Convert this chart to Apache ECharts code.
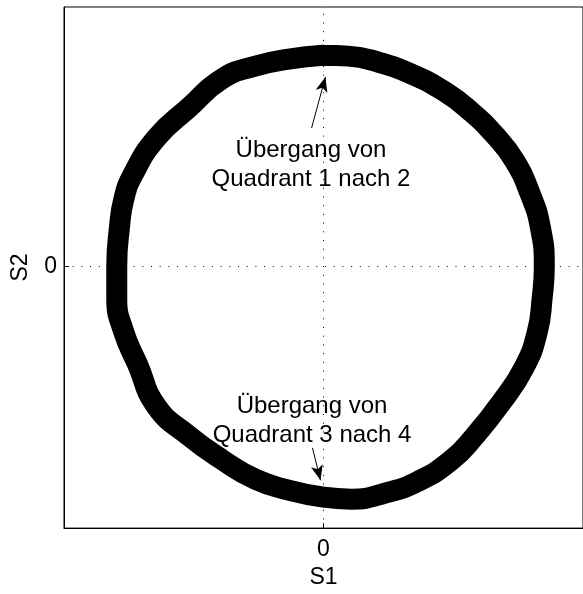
<!DOCTYPE html>
<html>
<head>
<meta charset="utf-8">
<script src="https://cdn.jsdelivr.net/npm/echarts@6/dist/echarts.min.js"></script>
<style>
  html, body { margin: 0; padding: 0; background: #fff; }
  #chart { width: 583px; height: 594px; }
</style>
</head>
<body>
<div id="chart"></div>
<script>
// Measured trace of the (S1, S2) ring, clockwise from the top
var s1 = [0, 0.115, 0.253, 0.405, 0.561, 0.680, 0.791, 0.883, 0.956, 1.002,
          1.021, 1.011, 0.989, 0.929, 0.818, 0.699, 0.589, 0.437, 0.285, 0.129,
          0, -0.161, -0.313, -0.469, -0.621, -0.772, -0.860, -0.924, -0.956, -0.956,
          -0.943, -0.924, -0.883, -0.772, -0.621, -0.469, -0.313, -0.161, 0];
var s2 = [0.985, 0.981, 0.953, 0.898, 0.815, 0.724, 0.614, 0.494, 0.338, 0.187,
          0, -0.148, -0.304, -0.469, -0.640, -0.791, -0.905, -1.002, -1.057, -1.085,
          -1.076, -1.043, -0.993, -0.901, -0.791, -0.653, -0.456, -0.304, -0.148, 0,
          0.187, 0.311, 0.425, 0.600, 0.742, 0.875, 0.935, 0.967, 0.985];

// Tick labels
var xTicks = [0];
var yTicks = [0];

// Annotations: text anchor and arrow (tail -> tip), in data units
var noteText = ['Übergang von\nQuadrant 1 nach 2', 'Übergang von\nQuadrant 3 nach 4'];
var noteAt = [[-0.058, 0.474], [-0.053, -0.722]];
var arrowFrom = [[-0.055, 0.646], [-0.051, -0.846]];
var arrowTo = [[0.009, 0.884], [-0.014, -0.997]];

var ring = s1.map(function (v, i) { return [v, s2[i]]; });
var font = 'Liberation Sans, Arial, Helvetica, sans-serif';

var chart = echarts.init(document.getElementById('chart'), null, { renderer: 'canvas' });

chart.setOption({
  animation: false,
  backgroundColor: '#fff',
  textStyle: { fontFamily: font, color: '#000' },
  grid: {
    left: 64, right: -3, top: 7, bottom: 57,
    show: true, borderColor: '#000', borderWidth: 1, backgroundColor: 'transparent'
  },
  xAxis: {
    type: 'value', min: -1.2, max: 1.2,
    name: 'S1', nameLocation: 'middle', nameGap: 35,
    nameTextStyle: { fontSize: 23, fontFamily: font, color: '#000' },
    axisLine: { show: true, onZero: false, lineStyle: { color: '#000', width: 1 } },
    axisTick: { show: true, inside: true, length: 5, customValues: xTicks, lineStyle: { color: '#000' } },
    axisLabel: { show: true, customValues: xTicks, fontSize: 23, color: '#000', margin: 10, fontFamily: font },
    splitLine: { show: false }
  },
  yAxis: {
    type: 'value', min: -1.22, max: 1.21,
    name: 'S2', nameLocation: 'middle', nameGap: 32, nameRotate: 90,
    nameTextStyle: { fontSize: 23, fontFamily: font, color: '#000' },
    axisLine: { show: true, onZero: false, lineStyle: { color: '#000', width: 1 } },
    axisTick: { show: true, inside: true, length: 5, customValues: yTicks, lineStyle: { color: '#000' } },
    axisLabel: { show: true, customValues: yTicks, fontSize: 23, color: '#000', margin: 7, fontFamily: font },
    splitLine: { show: false }
  },
  series: [
    {
      // dotted zero grid lines, beneath the ring
      type: 'line', data: [], z: 1, silent: true,
      markLine: {
        silent: true, symbol: 'none', animation: false,
        label: { show: false },
        lineStyle: { color: '#000', width: 1, type: [1, 7.7] },
        data: [{ xAxis: 0 }, { yAxis: 0 }]
      }
    },
    {
      // the ring of measured (S1, S2) samples
      type: 'line', data: ring, z: 2, smooth: 0.5, showSymbol: false, silent: true,
      lineStyle: { color: '#000', width: 21, join: 'round', cap: 'round' }
    },
    {
      // annotation texts and arrows
      type: 'scatter', z: 5, silent: true,
      symbolSize: 0,
      itemStyle: { opacity: 1 },
      data: noteAt.map(function (p, i) {
        return { value: p, label: { formatter: noteText[i] } };
      }),
      label: {
        show: true, position: 'inside', align: 'center', verticalAlign: 'middle',
        fontSize: 24, lineHeight: 29, color: '#000', opacity: 1, textBorderWidth: 0,
        fontFamily: font
      },
      markLine: {
        silent: true, animation: false,
        symbol: ['none', 'arrow'], symbolSize: [9, 15],
        label: { show: false },
        lineStyle: { color: '#000', width: 1, type: 'solid', opacity: 1 },
        data: arrowFrom.map(function (p, i) {
          return [{ coord: p }, { coord: arrowTo[i] }];
        })
      }
    }
  ]
});
</script>
</body>
</html>
